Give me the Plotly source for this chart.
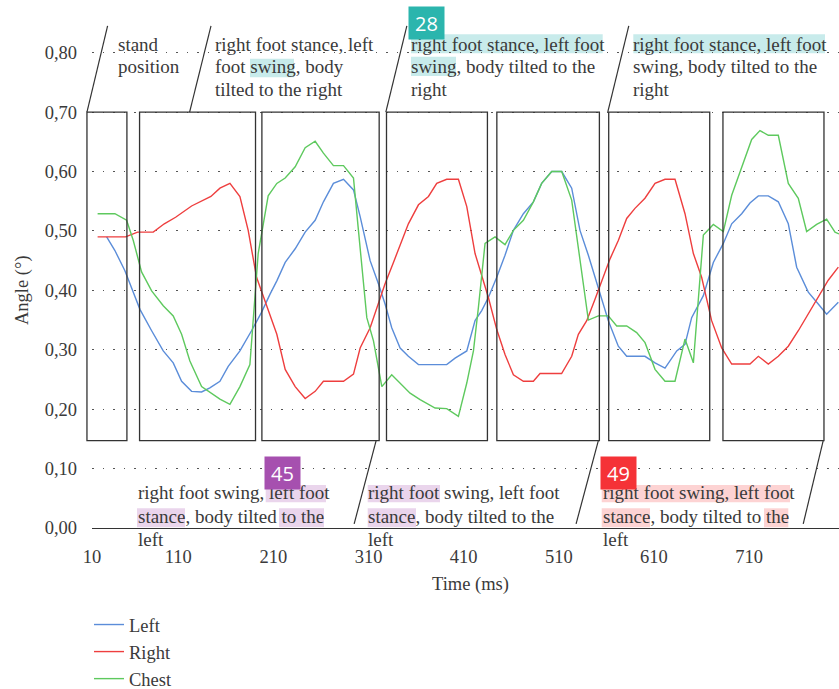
import plotly.graph_objects as go

# ---------------- data ----------------
left_t = [34.7, 43.4, 53.9, 60.9, 69.7, 82, 94.2, 104.7, 113.5, 124, 134.5, 143.2, 153.8, 162.5, 174.8, 187,
          197.5, 206.6, 213.6, 222.4, 232.9, 243.4, 253.9, 262.6, 273.1, 283.7, 294.2, 301.2, 311.7, 320.4,
          327.4, 334.4, 343.2, 351.9, 362.5, 392.2, 401, 413.3, 422, 429, 436, 444.8, 453.5, 462.3, 472.8,
          483.3, 492, 502.6, 513.1, 523.6, 532.3, 541.1, 551.6, 562.1, 572.6, 581.4, 600.6, 611.2, 621.7,
          634, 642.7, 649.7, 662, 672.5, 683, 691.8, 702.3, 711, 719.8, 730.3, 740.8, 751.3, 760.1, 772.3,
          782.8, 791.6, 803.9]
left_v = [.49, .467, .433, .405, .368, .332, .298, .278, .247, .230, .229, .236, .247, .272, .298, .332,
          .363, .394, .416, .447, .470, .498, .518, .549, .580, .587, .569, .524, .450, .411,
          .377, .337, .303, .289, .275, .275, .286, .298, .349, .366, .388, .422, .459, .501, .529,
          .549, .580, .600, .600, .572, .501, .459, .405, .349, .306, .289, .289, .278, .269,
          .298, .309, .354, .391, .447, .479, .512, .529, .547, .559, .559, .549, .512, .439, .397,
          .377, .360, .380]

right_t = [25.2, 54.6, 67.2, 83.7, 95.3, 107.2, 124, 144.3, 153.8, 164.3, 174.8, 183.5, 192.3, 201, 213.6,
           222.4, 232.9, 243.4, 253.9, 262.6, 283.7, 294.2, 301.2, 311.7, 318.7, 327.4, 336.2, 343.2, 351.9,
           362.5, 373, 381.7, 392.2, 404.5, 413.3, 422, 429, 436, 444.8, 453.5, 462.3, 472.8, 483.3, 490.3,
           513, 523.6, 530.6, 539.4, 548.1, 555.1, 563.9, 572.6, 581.4, 590.1, 600.6, 611.2, 621.7, 632.2,
           642.7, 651.5, 660.2, 670.7, 681.3, 691.8, 711, 719.8, 730.3, 740.8, 751.3, 761.8, 772.3, 782.8,
           793.3, 803.9]
right_v = [.49, .49, .498, .498, .512, .523, .542, .558, .572, .580, .558, .501, .422, .382, .326,
           .267, .238, .218, .230, .247, .247, .259, .303, .337, .371, .411, .447, .476, .512,
           .544, .558, .580, .587, .587, .541, .462, .425, .388, .334, .292, .258, .247, .247, .260,
           .260, .289, .326, .349, .385, .414, .453, .484, .521, .538, .555, .580, .587, .587,
           .529, .462, .422, .349, .303, .276, .276, .289, .276, .289, .306, .332, .360, .388,
           .417, .439]

chest_t = [25.2, 43.4, 55.7, 62.7, 71.4, 82, 94.2, 104.7, 113.5, 122.2, 134.5, 145, 153.8, 164.3, 174.8,
           185.3, 188.8, 194, 204.5, 213.6, 222.4, 232.9, 243.4, 253.9, 262.6, 273.1, 283.7, 294.2, 299.4,
           308.2, 315.2, 324, 334.4, 345, 353.7, 364.2, 380, 392.2, 404.5, 413.3, 420.3, 425.5, 432.5, 443,
           453.5, 462.3, 472.8, 483.3, 492, 502.6, 513.1, 523.6, 532.3, 541.1, 551.6, 562.1, 570.9, 581.4,
           591.9, 600.7, 611.2, 621.7, 632.2, 642.7, 651.5, 662, 672.5, 683, 691.8, 702.3, 712.8, 721.5,
           730.3, 740.8, 751.3, 761.8, 770.6, 781.1, 791.6, 800.4, 804.6]
chest_v = [.529, .529, .518, .484, .431, .399, .374, .357, .326, .281, .238, .227, .217, .208, .238,
           .275, .349, .462, .559, .580, .589, .608, .640, .651, .631, .610, .610, .589, .501,
           .354, .315, .238, .258, .241, .227, .216, .202, .201, .188, .244, .298, .371, .479, .490,
           .477, .501, .518, .549, .580, .600, .600, .552, .450, .350, .357, .357, .340, .340,
           .329, .312, .267, .247, .247, .318, .278, .493, .511, .499, .560, .608, .654, .669,
           .661, .661, .580, .555, .499, .511, .520, .498, .495]

x_tick_labels = [10, 110, 210, 310, 410, 510, 610, 710]

# phase boxes (ms), box value span
box_ranges = [(14, 56), (69.3, 191.2), (197.9, 321.2), (328.9, 435), (444.9, 552.7), (562.5, 668.7), (682.6, 788.8)]
box_low, box_high = 0.147, 0.70

top_label_lines = [["stand", "position"],
                   ["right foot stance, left", "foot swing, body", "tilted to the right"],
                   ["right foot stance, left foot", "swing, body tilted to the", "right"],
                   ["right foot stance, left foot", "swing, body tilted to the", "right"]]
bottom_label_lines = [["right foot swing, left foot", "stance, body tilted to the", "left"],
                      ["right foot swing, left foot", "stance, body tilted to the", "left"],
                      ["right foot swing, left foot", "stance, body tilted to the", "left"]]
badge_texts = ["28", "45", "49"]

# ---------------- layout geometry ----------------
W, H = 839, 689
ML, MR, MT, MB = 92, 0, 23, 161
X0, X1 = 19.3, 804.6
Y0, Y1 = 0.0, 0.85
PW, PH = W - ML - MR, H - MT - MB


def xp(t):
    return (t - X0) / (X1 - X0)


def yp(v):
    return (v - Y0) / (Y1 - Y0)


def px2x(px):
    return (px - ML) / PW


def py2y(py):
    return (H - MB - py) / PH


TXT = "#3a3a3a"
SERIF = "Liberation Serif"
LINE = "#333333"

fig = go.Figure()
fig.add_trace(go.Scatter(x=left_t, y=left_v, mode="lines", name="Left",
                         line=dict(color="#5b8dd9", width=1.4)))
fig.add_trace(go.Scatter(x=right_t, y=right_v, mode="lines", name="Right",
                         line=dict(color="#ee3e3e", width=1.4)))
fig.add_trace(go.Scatter(x=chest_t, y=chest_v, mode="lines", name="Chest",
                         line=dict(color="#5ec95e", width=1.4)))

shapes = []
# highlights (pixel rectangles) drawn under everything
hl_teal, hl_purple, hl_red = "#c8ebeb", "#ead5ec", "#fdd3d3"
highlights = [
    (250, 294, 58.7, 77.3, hl_teal),
    (411, 602.7, 34.3, 53.3, hl_teal), (411, 456, 56.7, 76, hl_teal),
    (633.3, 825, 34.3, 53.3, hl_teal),
    (265.7, 326, 485, 502.3, hl_purple), (137, 185, 508.3, 527.3, hl_purple), (279, 324, 508.3, 527.3, hl_purple),
    (367.7, 440, 485, 502.3, hl_purple), (367.7, 416, 508.3, 527.3, hl_purple),
    (601.7, 790, 485, 502.3, hl_red), (601.7, 650, 508.3, 527.3, hl_red), (764, 788.3, 508.3, 527.3, hl_red),
]
for x_a, x_b, y_a, y_b, c in highlights:
    shapes.append(dict(type="rect", xref="paper", yref="paper", layer="below",
                       x0=px2x(x_a), x1=px2x(x_b), y0=py2y(y_b), y1=py2y(y_a),
                       fillcolor=c, line=dict(width=0)))

for a, b in box_ranges:
    shapes.append(dict(type="rect", xref="paper", yref="paper", layer="above",
                       x0=xp(a), x1=xp(b), y0=yp(box_low), y1=yp(box_high),
                       line=dict(color=LINE, width=1.3)))

slashes = [((14.0, 0.70), (35.7, 0.845)), ((121.9, 0.70), (144.4, 0.845)),
           ((328.2, 0.70), (350.3, 0.845)), ((561.5, 0.70), (583.6, 0.845)),
           ((318.0, 0.147), (294.9, 0.007)), ((551.6, 0.147), (528.2, 0.007)),
           ((788.0, 0.147), (767.0, 0.007))]
for (ta, va), (tb, vb) in slashes:
    shapes.append(dict(type="line", xref="paper", yref="paper", layer="above",
                       x0=xp(ta), y0=yp(va), x1=xp(tb), y1=yp(vb),
                       line=dict(color=LINE, width=1.2)))

annotations = []
top_x = [118, 215, 411, 633]
top_y = [44, 66.5, 89]
for xx, lines in zip(top_x, top_label_lines):
    for yy, s in zip(top_y, lines):
        annotations.append(dict(text=s, xref="paper", yref="paper", x=px2x(xx - 2), y=py2y(yy),
                                xanchor="left", yanchor="middle", showarrow=False,
                                font=dict(family=SERIF, size=19, color=TXT)))
bot_x = [137.7, 367.7, 602.7]
bot_y = [493, 516, 539]
for xx, lines in zip(bot_x, bottom_label_lines):
    for yy, s in zip(bot_y, lines):
        annotations.append(dict(text=s, xref="paper", yref="paper", x=px2x(xx - 2), y=py2y(yy),
                                xanchor="left", yanchor="middle", showarrow=False,
                                font=dict(family=SERIF, size=19, color=TXT)))

badge_pos = [(426.5, 22.9, "#2bb5ad"), (282.2, 473.2, "#a650af"), (618.3, 473.2, "#f53237")]
for (bx, by, bc), t in zip(badge_pos, badge_texts):
    annotations.append(dict(text=t, xref="paper", yref="paper", x=px2x(bx), y=py2y(by),
                            xanchor="center", yanchor="middle", showarrow=False,
                            bgcolor=bc, width=33, height=30, borderpad=1,
                            font=dict(family="Open Sans", size=20, color="white")))

annotations.append(dict(text="Time (ms)", xref="paper", yref="paper", x=px2x(470), y=py2y(584),
                        xanchor="center", yanchor="middle", showarrow=False,
                        font=dict(family=SERIF, size=18.5, color=TXT)))
annotations.append(dict(text="Angle (°)", xref="paper", yref="paper", x=px2x(22), y=py2y(290),
                        xanchor="center", yanchor="middle", showarrow=False, textangle=-90,
                        font=dict(family=SERIF, size=18.5, color=TXT)))

tick_vals = [max(v, X0) for v in x_tick_labels]

fig.update_layout(
    width=W, height=H,
    margin=dict(l=ML, r=MR, t=MT, b=MB, pad=0, autoexpand=False),
    paper_bgcolor="white", plot_bgcolor="rgba(0,0,0,0)",
    separators=", ",
    showlegend=True,
    legend=dict(x=px2x(89), y=py2y(606), xanchor="left", yanchor="top",
                font=dict(family=SERIF, size=18.5, color=TXT), bgcolor="rgba(0,0,0,0)",
                tracegroupgap=0),
    shapes=shapes, annotations=annotations,
    xaxis=dict(range=[X0, X1], tickvals=tick_vals, ticktext=[str(v) for v in x_tick_labels],
               showgrid=False, zeroline=False, showline=True, linecolor=LINE, linewidth=1.4,
               ticks="", ticklabelstandoff=12, automargin=False,
               tickfont=dict(family=SERIF, size=18.5, color=TXT)),
    yaxis=dict(range=[Y0, Y1], dtick=0.1, tick0=0, tickformat=".2f",
               showgrid=True, gridcolor="#555555", gridwidth=1.2, griddash="1.5px,9px",
               zeroline=False, showline=False, ticks="", ticklabelstandoff=14, automargin=False,
               tickfont=dict(family=SERIF, size=18.5, color=TXT)),
)

fig.write_html("out.html")
